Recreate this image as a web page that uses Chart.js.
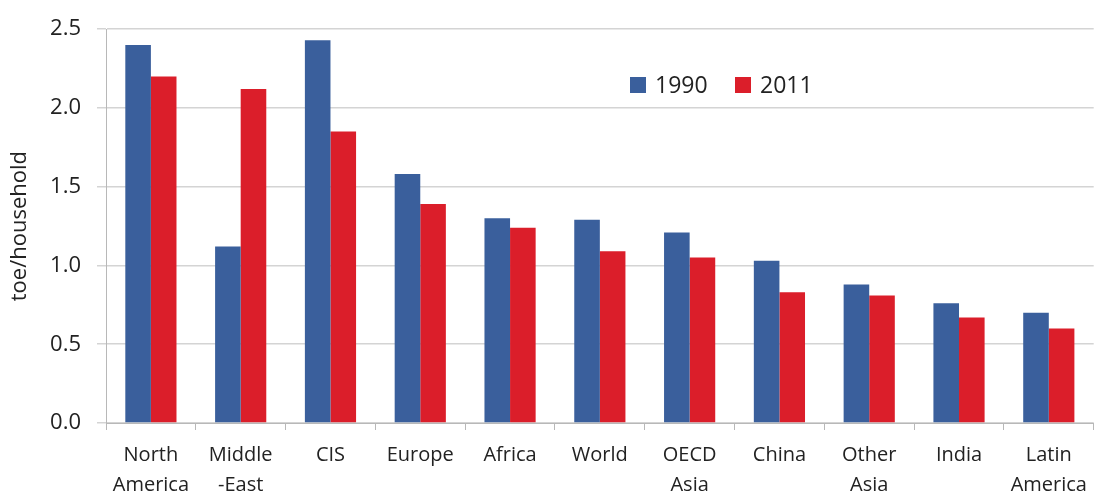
<!DOCTYPE html>
<html>
<head>
<meta charset="utf-8">
<script src="https://cdn.jsdelivr.net/npm/chart.js@4/dist/chart.umd.min.js"></script>
<style>
  html, body { margin: 0; padding: 0; background: #fff; overflow: hidden; }
  #wrap { width: 1097px; height: 495px; }
</style>
</head>
<body>
<div id="wrap"><canvas id="chart" width="1097" height="495"></canvas></div>
<script>
// household energy use by region
const regions = [
  ["North", "America"], ["Middle", "-East"], "CIS", "Europe", "Africa", "World",
  ["OECD", "Asia"], "China", ["Other", "Asia"], "India", ["Latin", "America"]
];
const values1990 = [2.40, 1.12, 2.43, 1.58, 1.30, 1.29, 1.21, 1.03, 0.88, 0.76, 0.70];
const values2011 = [2.20, 2.12, 1.85, 1.39, 1.24, 1.09, 1.05, 0.83, 0.81, 0.67, 0.60];
const yTicks = [0, 0.5, 1.0, 1.5, 2.0, 2.5];

const blue = "#3A5F9C";
const red = "#DB1E2A";
const font = "'Open Sans', 'Noto Sans', sans-serif";

// legend drawn inside the plot, like the original
const legendInPlot = {
  id: "legendInPlot",
  afterDraw(chart) {
    const c = chart.ctx;
    const y = 85;
    let x = 630;
    c.save();
    c.font = "23px " + font;
    c.textBaseline = "middle";
    chart.data.datasets.forEach(ds => {
      c.fillStyle = ds.backgroundColor;
      c.fillRect(x, y - 8, 16, 16);
      c.fillStyle = "#222";
      c.fillText(ds.label, x + 25, y + 1);
      x += 105;
    });
    c.restore();
  }
};

new Chart(document.getElementById("chart"), {
  type: "bar",
  data: {
    labels: regions,
    datasets: [
      { label: "1990", data: values1990, backgroundColor: blue },
      { label: "2011", data: values2011, backgroundColor: red }
    ]
  },
  options: {
    responsive: false,
    animation: false,
    layout: { padding: { top: 28, right: 1, left: 0, bottom: 0 } },
    datasets: { bar: { categoryPercentage: 0.57, barPercentage: 1.0 } },
    plugins: { legend: { display: false }, tooltip: { enabled: false } },
    scales: {
      x: {
        grid: { drawOnChartArea: false, drawTicks: true, tickLength: 7, color: "#b8b8b8" },
        border: { color: "#b8b8b8", width: 1 },
        ticks: { color: "#222", font: { family: font, size: 20, lineHeight: 1.5 }, padding: 10, maxRotation: 0, autoSkip: false },
        afterFit: s => { s.height = 72; }
      },
      y: {
        min: 0, max: 2.5,
        afterBuildTicks: s => { s.ticks = yTicks.map(v => ({ value: v })); },
        grid: { color: "#d4d4d4", tickLength: 9, lineWidth: 1.5 },
        border: { color: "#b8b8b8", width: 1 },
        ticks: { color: "#222", font: { family: font, size: 22 }, padding: 16, callback: v => v.toFixed(1) },
        title: { display: true, text: "toe/household", color: "#222", font: { family: font, size: 22 }, padding: { top: 7, bottom: 0 } },
        afterFit: s => { s.width = 106; }
      }
    }
  },
  plugins: [legendInPlot]
});
</script>
</body>
</html>
